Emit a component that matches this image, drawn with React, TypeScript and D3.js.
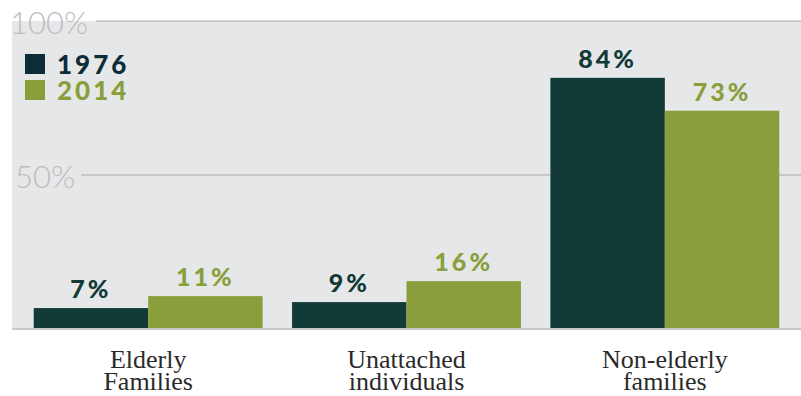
import React from "react";
import * as d3 from "d3";

const categories = [["Elderly", "Families"], ["Unattached", "individuals"], ["Non-elderly", "families"]];
const seriesNames = ["1976", "2014"];
const values1976 = [7, 9, 84];
const values2014 = [11, 16, 73];
const gridTicks = [50, 100];
const colors = ["#123a37", "#8a9f3b"];
const legendColors = ["#0c2d38", "#8a9f3b"];

const W = 801, H = 396;

export default function App() {
  const plot = { left: 12, right: 801, top: 21, bottom: 329 };
  const x0 = d3.scaleBand<number>().domain(d3.range(categories.length)).range([19, 794]).paddingInner(0.114).paddingOuter(0.057);
  const x1 = d3.scaleBand<number>().domain([0, 1]).range([0, x0.bandwidth()]);
  const y = d3.scaleLinear().domain([0, 100]).range([plot.bottom, 30]);
  const yGrid = d3.scaleLinear().domain([0, 100]).range([plot.bottom, plot.top]);
  const series = [values1976, values2014];
  const gridStart: Record<number, number> = { 50: 81, 100: 96 };

  return (
    <svg width={W} height={H} style={{ position: "absolute", left: 0, top: 0 }}>
      <rect x={0} y={0} width={W} height={H} fill="#ffffff" />
      <rect x={plot.left} y={plot.top} width={plot.right - plot.left} height={plot.bottom - plot.top} fill="#e6e7e9" />
      {gridTicks.map((t) => (
        <g key={t}>
          <line x1={gridStart[t]} x2={plot.right} y1={yGrid(t)} y2={yGrid(t)} stroke="#a9a9a9" strokeWidth={1} />
          <text x={t === 100 ? 10 : 15} y={yGrid(t) + 13} fontFamily="Lato" fontWeight={300} fontSize={31} fill="#bdbdbd">{t}%</text>
        </g>
      ))}
      {series.map((vals, si) =>
        vals.map((v, ci) => (
          <g key={`${si}-${ci}`}>
            <rect x={(x0(ci) as number) + (x1(si) as number)} y={y(v)} width={x1.bandwidth()} height={plot.bottom - y(v)} fill={colors[si]} />
            <text x={(x0(ci) as number) + (x1(si) as number) + x1.bandwidth() / 2} y={y(v) - 10} textAnchor="middle" fontFamily="Lato" fontWeight={900} fontSize={25} letterSpacing={3} fill={si === 0 ? "#123a37" : "#8a9f3b"}>{v}%</text>
          </g>
        ))
      )}
      <line x1={plot.left} x2={plot.right} y1={plot.bottom} y2={plot.bottom} stroke="#c9c9c9" strokeWidth={2} />
      {seriesNames.map((s, i) => (
        <g key={s}>
          <rect x={25} y={54 + i * 26} width={20} height={20} fill={legendColors[i]} />
          <text x={57} y={74 + i * 26} fontFamily="Lato" fontWeight={900} fontSize={26} letterSpacing={3} fill={legendColors[i]}>{s}</text>
        </g>
      ))}
      {categories.map((lines, ci) => (
        <text key={ci} x={(x0(ci) as number) + x0.bandwidth() / 2} textAnchor="middle" fontFamily="Liberation Serif" fontSize={26} fill="#2a2a2a">
          {lines.map((l, li) => (
            <tspan key={li} x={(x0(ci) as number) + x0.bandwidth() / 2} y={368 + li * 22}>{l}</tspan>
          ))}
        </text>
      ))}
    </svg>
  );
}
